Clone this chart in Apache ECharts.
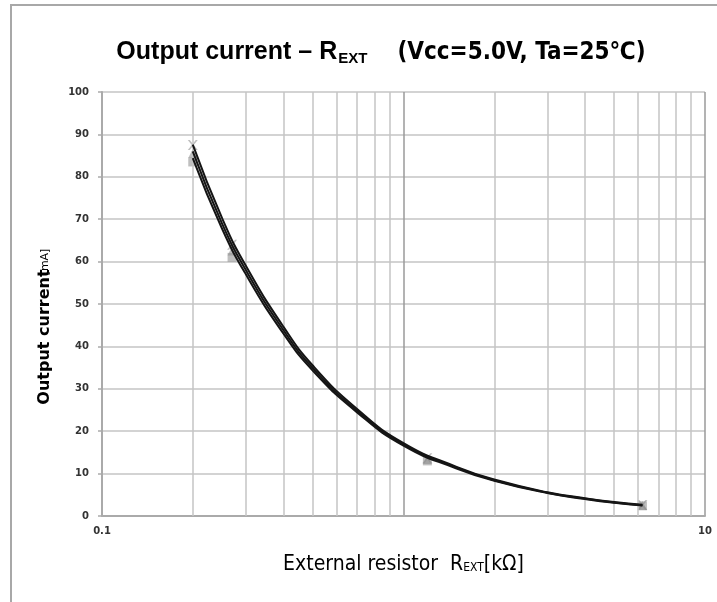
<!DOCTYPE html>
<html>
<head>
<meta charset="utf-8">
<script src="https://cdn.jsdelivr.net/npm/echarts@6/dist/echarts.min.js"></script>
<style>html,body{margin:0;padding:0;background:#fff}#c{width:717px;height:602px}</style>
</head>
<body>
<div id="c"></div>
<script>
const resistance = [0.2, 0.27, 1.2, 6.2];          // kΩ
const pointsA = [87.5, 64.0, 13.6, 2.6];           // mA (x markers)
const pointsB = [85.5, 62.5, 13.3, 2.5];           // mA (triangles)
const pointsC = [83.5, 61.0, 13.0, 2.4];           // mA (squares)
// Fitted curves
const curveR = [0.2, 0.25, 0.3, 0.4, 0.5, 0.7, 1, 1.5, 2, 3, 4, 5, 6.2];
const curveA = [87.6, 70.3, 59.0, 44.6, 35.5, 25.3, 17.2, 11.6, 8.6, 5.6, 4.2, 3.3, 2.65];
const curveB = [86.0, 69.0, 58.0, 43.8, 34.9, 24.9, 16.9, 11.4, 8.45, 5.5, 4.1, 3.2, 2.55];
const curveC = [84.4, 67.8, 57.0, 43.0, 34.3, 24.5, 16.6, 11.2, 8.3, 5.4, 4.0, 3.1, 2.45];
const minorGridX = [0.2,0.3,0.4,0.5,0.6,0.7,0.8,0.9,2,3,4,5,6,7,8,9];
const xLabels = ['0.1', '10'];

const chart = echarts.init(document.getElementById('c'), null, {renderer: 'canvas'});
const pairs = (xs, ys) => xs.map((x, i) => [x, ys[i]]);
const xSym = 'path://M0,0L2,0L5,3L8,0L10,0L6,4L10,8L8,8L5,5L2,8L0,8L4,4Z';

function curveOf(ys) {
  return {type: 'line', data: pairs(curveR, ys), smooth: true, showSymbol: false, symbol: 'none',
          lineStyle: {color: '#151515', width: 2}, z: 5, silent: true};
}
function pointsOf(ys, symbol, size) {
  return {type: 'scatter', data: pairs(resistance, ys), symbol, symbolSize: size,
          itemStyle: {color: 'rgba(140,140,140,0.7)'}, z: 4};
}

chart.setOption({
  animation: false,
  backgroundColor: '#fff',
  title: {
    text: '{a|Output current – R}{s|EXT}{b|    (Vcc=5.0V, Ta=25℃)}',
    left: 376, textAlign: 'center', top: 34,
    textStyle: {
      rich: {
        a: {fontFamily: 'Liberation Sans, Arial', fontWeight: 'bold', fontSize: 25, color: '#000'},
        s: {fontFamily: 'Liberation Sans, Arial', fontWeight: 'bold', fontSize: 15, color: '#000', padding: [12, 0, 0, 1]},
        b: {fontFamily: 'DejaVu Sans Condensed', fontWeight: 'bold', fontSize: 24, color: '#000'}
      }
    }
  },
  grid: {left: 102, right: 12, top: 92, bottom: 86},
  xAxis: {
    type: 'log', logBase: 10, min: 0.1, max: 10,
    axisLine: {show: true, lineStyle: {color: '#aaa', width: 2}},
    axisTick: {show: false},
    axisLabel: {
      margin: 10, color: '#333', fontSize: 10, fontWeight: 'bold', fontFamily: 'DejaVu Sans',
      formatter: v => { const s = String(+v.toPrecision(3)); return xLabels.includes(s) ? s : ''; }
    },
    splitLine: {show: true, lineStyle: {color: '#9a9a9a', width: 1.5}},
    name: '{a|External resistor  R}{s|EXT}{a|[kΩ]}',
    nameLocation: 'middle', nameGap: 38,
    nameTextStyle: {
      rich: {
        a: {fontFamily: 'DejaVu Sans Condensed', fontSize: 21, color: '#000'},
        s: {fontFamily: 'DejaVu Sans Condensed', fontSize: 12, color: '#000', padding: [6, 0, 0, 0]}
      }
    }
  },
  yAxis: {
    type: 'value', min: 0, max: 100, interval: 10,
    axisLine: {show: true, lineStyle: {color: '#aaa', width: 2}},
    axisTick: {show: true, length: 4, lineStyle: {color: '#aaa', width: 1.5}},
    axisLabel: {margin: 13, color: '#333', fontSize: 10, fontWeight: 'bold', fontFamily: 'DejaVu Sans'},
    splitLine: {show: true, lineStyle: {color: '#c4c4c4', width: 1.5}}
  },
  graphic: [
    {type: 'rect', shape: {x: 11, y: 5, width: 800, height: 700}, style: {fill: 'none', stroke: '#a8a8a8', lineWidth: 2}, silent: true},
    {type: 'text', x: 45, y: 337, rotation: Math.PI / 2,
     style: {text: 'Output current', fontFamily: 'DejaVu Sans', fontWeight: 'bold', fontSize: 16, fill: '#000', align: 'center', verticalAlign: 'middle'}},
    {type: 'text', x: 45, y: 262, rotation: Math.PI / 2,
     style: {text: '[mA]', fontFamily: 'DejaVu Sans', fontSize: 11, fill: '#000', align: 'center', verticalAlign: 'middle'}}
  ],
  series: [
    {
      type: 'line', data: [], silent: true,
      markLine: {
        silent: true, symbol: 'none', label: {show: false},
        lineStyle: {color: '#c4c4c4', width: 1.5, type: 'solid'},
        data: minorGridX.map(v => ({xAxis: v}))
      },
      z: 1
    },
    pointsOf(pointsC, 'rect', 9),
    pointsOf(pointsB, 'triangle', 9),
    pointsOf(pointsA, xSym, 10),
    curveOf(curveA),
    curveOf(curveB),
    curveOf(curveC)
  ]
});
</script>
</body>
</html>
